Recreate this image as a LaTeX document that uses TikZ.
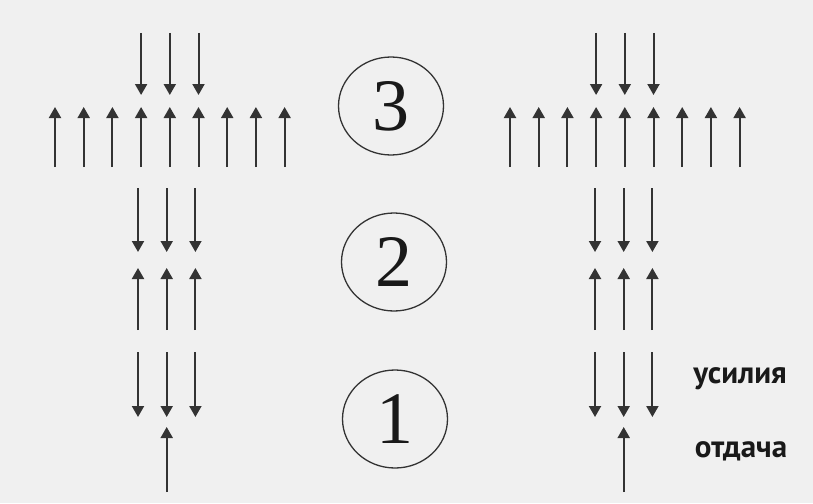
\documentclass[tikz,border=0pt]{standalone}
\usepackage{fontspec}
\setmainfont{Liberation Serif}
\newfontfamily\labelfont{PT Sans}
\usetikzlibrary{arrows.meta,shapes.geometric}
\definecolor{bg}{HTML}{F0F0F0}
\definecolor{ink}{HTML}{333333}
\tikzset{
  force/.style={draw=ink, line width=2pt, -{Triangle[width=12pt,length=11pt]}},
  level/.style={ellipse, draw=ink, line width=1.3pt, minimum width=105pt, minimum height=98pt, inner sep=0pt, font=\fontsize{74}{74}\selectfont, text=black!90},
  tag/.style={font=\labelfont\bfseries\fontsize{31}{31}\selectfont, text=black!90, anchor=base}
}
\begin{document}
\begin{tikzpicture}[x=1pt,y=-1pt]
\fill[bg] (0,0) rectangle (813,503);
\useasboundingbox (0,0) rectangle (813,503);

% levels
\node[level] (c3) at (391,106) {3};
\node[level] (c2) at (394,262) {2};
\node[level] (c1) at (395,419) {1};

% labels
\node[tag] (effort) at (740,383) {усилия};
\node[tag] (yield) at (741,457) {отдача};

% top level: nine upward, three downward
\foreach \g/\xo in {L/55, R/510} {
  \foreach \i in {0,...,8} {
    \coordinate (\g-ub\i) at (\xo+\i*28.7,167);
    \coordinate (\g-ut\i) at (\xo+\i*28.7,107);
    \draw[force] (\g-ub\i) -- (\g-ut\i);
  }
  \foreach \i in {3,4,5} {
    \coordinate (\g-ds\i) at (\xo+\i*28.7,33);
    \coordinate (\g-de\i) at (\xo+\i*28.7,95);
    \draw[force] (\g-ds\i) -- (\g-de\i);
  }
}

% middle and bottom levels
\foreach \g/\xo in {L/138, R/595} {
  \foreach \i in {0,1,2} {
    \coordinate (\g-ms\i) at (\xo+\i*28.7,188);
    \coordinate (\g-me\i) at (\xo+\i*28.7,252);
    \draw[force] (\g-ms\i) -- (\g-me\i);
    \coordinate (\g-mb\i) at (\xo+\i*28.7,330);
    \coordinate (\g-mt\i) at (\xo+\i*28.7,268);
    \draw[force] (\g-mb\i) -- (\g-mt\i);
    \coordinate (\g-bs\i) at (\xo+\i*28.7,352);
    \coordinate (\g-be\i) at (\xo+\i*28.7,417);
    \draw[force] (\g-bs\i) -- (\g-be\i);
  }
  \coordinate (\g-bb) at (\xo+28.7,492);
  \coordinate (\g-bt) at (\xo+28.7,427);
  \draw[force] (\g-bb) -- (\g-bt);
}
\end{tikzpicture}
\end{document}
